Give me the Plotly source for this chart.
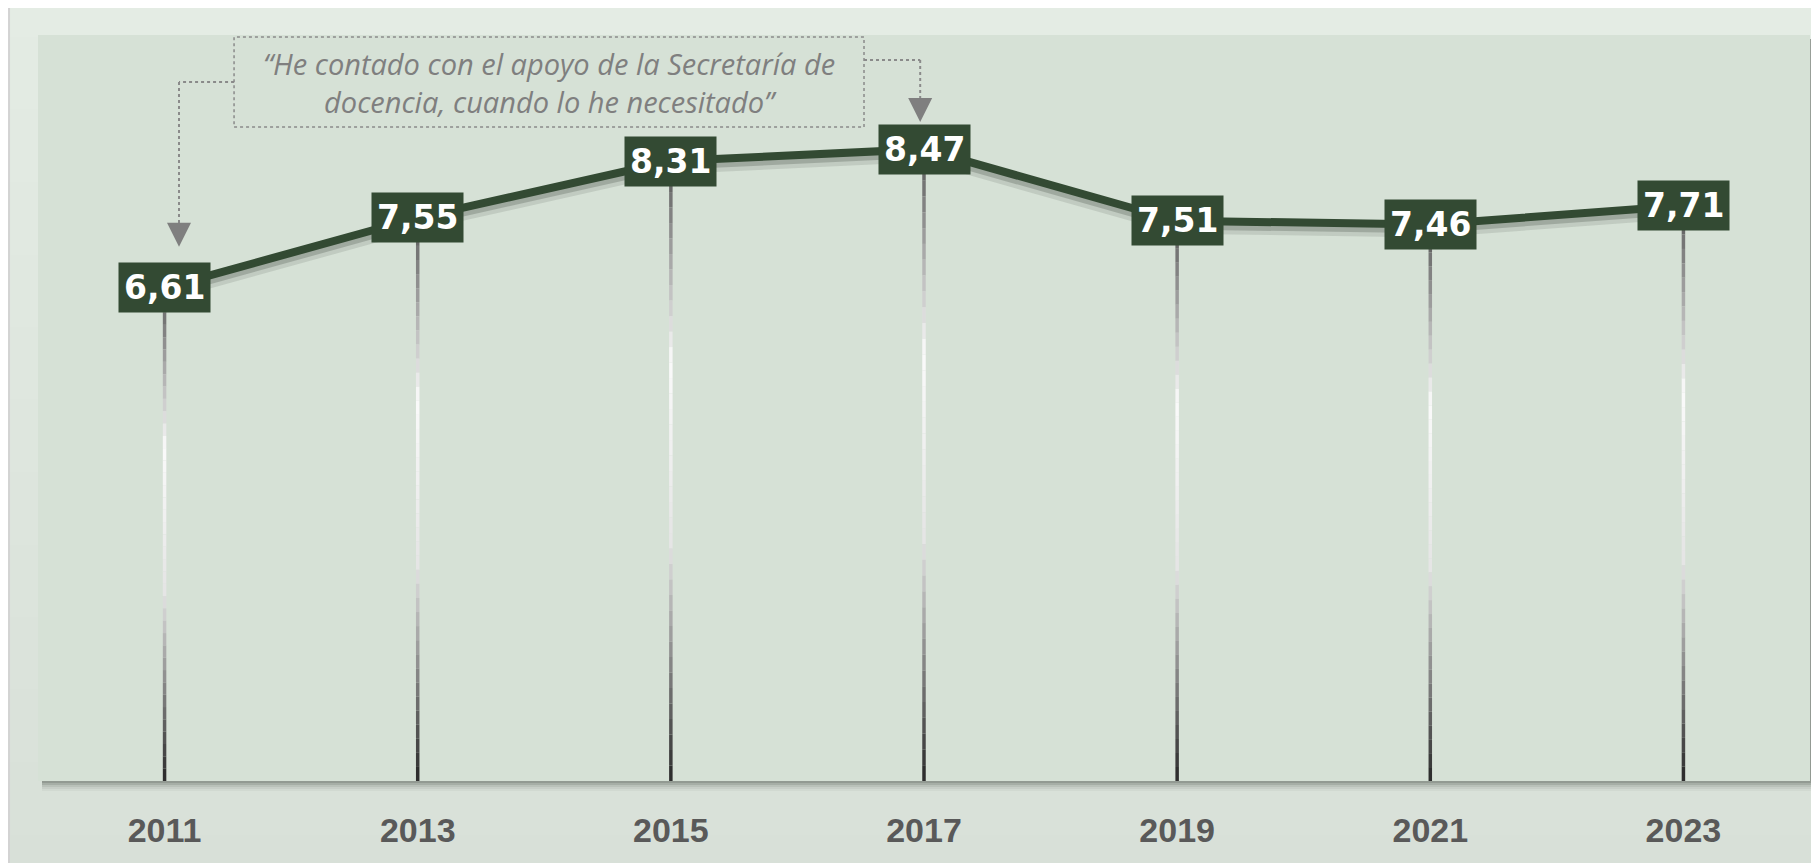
import plotly.graph_objects as go

# survey score per edition
years = [2011, 2013, 2015, 2017, 2019, 2021, 2023]
scores = [6.61, 7.55, 8.31, 8.47, 7.51, 7.46, 7.71]
year_labels = [str(y) for y in years]
value_labels = [f"{v:.2f}".replace(".", ",") for v in scores]
quote = "“He contado con el apoyo de la Secretaría de<br>docencia, cuando lo he necesitado”"

colors = {
    'line': '#334a33',
    'plot_bg': '#d6e1d6',
    'axis_text': '#595959',
    'quote': '#7f7f7f',
    'dots': '#8a8a8a',
}

# figure size and margins in px (the page adds an 8px body margin)
FW, FH = 1811, 855
ML, MR, MT, MB = 30, 9, 27, 82
W, H = FW - ML - MR, FH - MT - MB


def mix(c0, c1, t):
    return tuple(round(a + (b - a) * t) for a, b in zip(c0, c1))


def gray_at(t):
    # drop line gradient: grey at top, white in the middle, dark at the base
    stops = [(0.0, 85), (0.32, 250), (0.62, 228), (1.0, 40)]
    for (t0, g0), (t1, g1) in zip(stops, stops[1:]):
        if t <= t1:
            g = round(g0 + (g1 - g0) * (t - t0) / (t1 - t0))
            return f"rgb({g},{g},{g})"
    return "rgb(40,40,40)"


shapes = []

# paper background gradient (light at top, a bit darker at the bottom)
px0, px1 = -ML / W - 0.01, 1 + MR / W + 0.01
py0, py1 = -MB / H - 0.01, 1 + MT / H + 0.01
n_bands = 24
for i in range(n_bands):
    t = i / (n_bands - 1)
    c = mix((216, 224, 216), (228, 236, 228), t)
    shapes.append(dict(type='rect', xref='paper', yref='paper', layer='below',
                       x0=px0, x1=px1,
                       y0=py0 + (py1 - py0) * i / n_bands,
                       y1=py0 + (py1 - py0) * (i + 1) / n_bands + 0.002,
                       fillcolor=f"rgb{c}", line_width=0))

# slide frame edge on the left
shapes.append(dict(type='line', xref='paper', yref='paper', layer='below',
                   x0=-ML / W + 0.0006, x1=-ML / W + 0.0006, y0=py0, y1=py1,
                   line=dict(color='#d3d3d3', width=2)))

# plot area drop shadow
for k, a in [(10, 0.05), (8, 0.07), (6, 0.1), (4, 0.16), (2, 0.2)]:
    shapes.append(dict(type='rect', xref='paper', yref='paper', layer='below',
                       x0=4 / W, x1=1 + k / W, y0=-k / H, y1=1 - 4 / H,
                       fillcolor=f"rgba(70,76,70,{a})", line_width=0))
shapes.append(dict(type='rect', xref='paper', yref='paper', layer='below',
                   x0=0, x1=1, y0=0, y1=1,
                   fillcolor=colors['plot_bg'], line_width=0))

# gradient drop lines from each point down to the axis
n_seg = 40
for x, v in zip(years, scores):
    for i in range(n_seg):
        shapes.append(dict(type='line', xref='x', yref='y', layer='below',
                           x0=x, x1=x,
                           y0=v - v * i / n_seg, y1=v - v * (i + 1) / n_seg,
                           line=dict(color=gray_at((i + 0.5) / n_seg), width=3.5)))

# quote box and its dotted connectors
dot = dict(color=colors['dots'], width=2, dash='dot')
shapes += [
    dict(type='rect', xref='x', yref='y', x0=2011.549, x1=2016.526, y0=8.767, y1=9.973,
         line=dict(color=colors['dots'], width=1.5, dash='dot')),
    dict(type='line', xref='x', yref='y', x0=2011.549, x1=2011.114, y0=9.37, y1=9.37, line=dot),
    dict(type='line', xref='x', yref='y', x0=2011.114, x1=2011.114, y0=9.37, y1=7.35, line=dot),
    dict(type='line', xref='x', yref='y', x0=2016.526, x1=2016.97, y0=9.665, y1=9.665, line=dot),
    dict(type='line', xref='x', yref='y', x0=2016.97, x1=2016.97, y0=9.665, y1=9.02, line=dot),
]

fig = go.Figure()

# soft shadow under the line
fig.add_trace(go.Scatter(
    x=years, y=[v - 0.08 for v in scores], mode='lines',
    line=dict(color='rgba(40,50,40,0.12)', width=14),
    hoverinfo='skip', showlegend=False
))
fig.add_trace(go.Scatter(
    x=years, y=[v - 0.05 for v in scores], mode='lines',
    line=dict(color='rgba(40,50,40,0.22)', width=10),
    hoverinfo='skip', showlegend=False
))
fig.add_trace(go.Scatter(
    x=years, y=scores, mode='lines',
    line=dict(color=colors['line'], width=8),
    hovertemplate='%{x}: %{y:.2f}<extra></extra>',
    showlegend=False
))

annotations = []
for x, v, lab in zip(years, scores, value_labels):
    annotations.append(dict(
        x=x, y=v, xref='x', yref='y', text=f"<b>{lab}</b>", showarrow=False,
        bgcolor=colors['line'], borderpad=5,
        font=dict(family='DejaVu Sans', size=33, color='white')
    ))

annotations.append(dict(
    x=2014.04, y=9.37, xref='x', yref='y', text=f"<i>{quote}</i>", showarrow=False,
    font=dict(family='Open Sans', size=29, color=colors['quote'])
))

# arrow heads at the end of the connectors
for ax_x, ax_y in [(2011.114, 7.16), (2016.97, 8.834)]:
    annotations.append(dict(
        x=ax_x, y=ax_y, xref='x', yref='y', text='', showarrow=True,
        ax=0, ay=-15, arrowhead=2, arrowsize=2.4, arrowwidth=2,
        arrowcolor='#7f7f7f', standoff=0
    ))

fig.update_layout(
    width=FW, height=FH,
    margin=dict(l=ML, r=MR, t=MT, b=MB),
    paper_bgcolor='#dde5dd',
    plot_bgcolor='rgba(0,0,0,0)',
    shapes=shapes,
    annotations=annotations,
    xaxis=dict(
        range=[2010, 2024], tickvals=years, ticktext=year_labels,
        showgrid=False, zeroline=False, showline=False,
        ticks='outside', ticklen=19, tickcolor='rgba(0,0,0,0)',
        tickfont=dict(family='Liberation Sans', size=34, color=colors['axis_text'],
                      weight='bold'),
        fixedrange=True
    ),
    yaxis=dict(
        range=[0, 10], visible=False, showgrid=False, zeroline=False, fixedrange=True
    ),
    showlegend=False
)

fig.write_html("out.html")
